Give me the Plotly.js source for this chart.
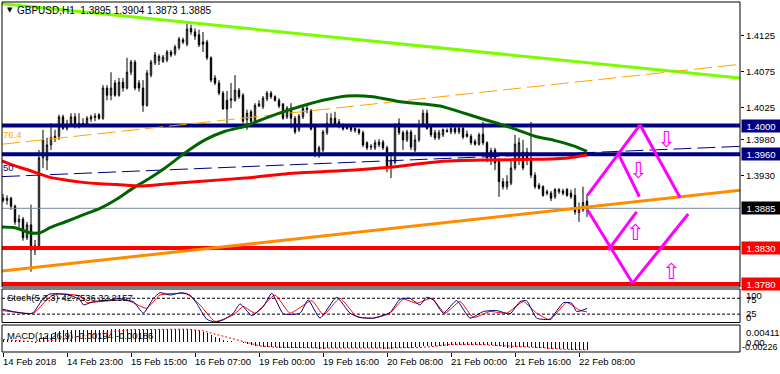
<!DOCTYPE html>
<html><head><meta charset="utf-8">
<script src="https://cdn.plot.ly/plotly-3.0.1.min.js"></script>
<style>html,body{margin:0;padding:0;background:#fff;}#chart{width:780px;height:374px;}</style>
</head><body><div id="chart"></div>
<script>
const symbol = 'GBPUSD,H1';
const openP = [1.3899,1.3896,1.3899,1.3888,1.3866,1.3870,1.3844,1.3862,1.3827,1.3833,
 1.3955,1.3952,1.3973,1.3983,1.3985,1.4012,1.3996,1.4002,1.4012,1.3999,
 1.4003,1.4001,1.4009,1.4011,1.4015,1.4010,1.4052,1.4042,1.4059,1.4042,
 1.4060,1.4052,1.4074,1.4088,1.4059,1.4052,1.4028,1.4070,1.4087,1.4090,
 1.4089,1.4091,1.4102,1.4100,1.4108,1.4119,1.4113,1.4135,1.4130,1.4126,
 1.4116,1.4116,1.4094,1.4066,1.4059,1.4045,1.4035,1.4035,1.4035,1.4049,
 1.4042,1.4008,1.4019,1.4006,1.4027,1.4026,1.4037,1.4045,1.4040,1.4035,
 1.4030,1.4012,1.4024,1.4010,1.3994,1.4012,1.4022,1.4020,1.3998,1.3960,
 1.3966,1.3990,1.4003,1.4010,1.4005,1.3999,1.3998,1.3998,1.3993,1.3994,
 1.3990,1.3976,1.3970,1.3969,1.3973,1.3977,1.3969,1.3944,1.3949,1.4003,
 1.3990,1.3980,1.3991,1.3966,1.3980,1.4001,1.4017,1.3998,1.3990,1.3983,
 1.3987,1.3993,1.3991,1.3996,1.3991,1.3996,1.3988,1.3985,1.3978,1.3974,
 1.3988,1.3976,1.3955,1.3966,1.3952,1.3922,1.3915,1.3920,1.3941,1.3952,
 1.3963,1.3963,1.3955,1.3931,1.3917,1.3915,1.3908,1.3906,1.3901,1.3908,
 1.3909,1.3911,1.3906,1.3903,1.3879,1.3883,1.3895];
const highP = [1.3905,1.3903,1.3901,1.3890,1.3876,1.3873,1.3866,1.3890,1.3841,1.3966,
 1.3994,1.3983,1.4003,1.3994,1.4015,1.4015,1.4008,1.4017,1.4017,1.4017,
 1.4010,1.4013,1.4015,1.4017,1.4017,1.4056,1.4056,1.4074,1.4063,1.4066,
 1.4066,1.4094,1.4091,1.4091,1.4063,1.4063,1.4077,1.4091,1.4102,1.4099,
 1.4098,1.4105,1.4105,1.4112,1.4123,1.4122,1.4142,1.4140,1.4135,1.4133,
 1.4130,1.4119,1.4096,1.4070,1.4063,1.4048,1.4048,1.4059,1.4070,1.4052,
 1.4045,1.4022,1.4022,1.4031,1.4035,1.4041,1.4048,1.4048,1.4042,1.4038,
 1.4031,1.4027,1.4031,1.4013,1.4016,1.4028,1.4031,1.4023,1.4001,1.3972,
 1.3994,1.4017,1.4017,1.4019,1.4009,1.4003,1.4002,1.4001,1.4002,1.3996,
 1.3993,1.3978,1.3974,1.3980,1.3981,1.3980,1.3972,1.3963,1.4003,1.4010,
 1.3993,1.3994,1.3994,1.3987,1.4008,1.4022,1.4022,1.4001,1.3994,1.3994,
 1.3996,1.3996,1.4003,1.3999,1.4002,1.3999,1.3993,1.3988,1.3981,1.3990,
 1.4005,1.3978,1.3969,1.3969,1.3955,1.3927,1.3931,1.3952,1.3987,1.3983,
 1.3980,1.3969,1.4005,1.3935,1.3920,1.3917,1.3911,1.3909,1.3913,1.3913,
 1.3912,1.3913,1.3911,1.3913,1.3893,1.3915,1.3904];
const lowP = [1.3893,1.3890,1.3883,1.3862,1.3858,1.3840,1.3841,1.3797,1.3820,1.3829,
 1.3941,1.3938,1.3966,1.3977,1.3980,1.3994,1.3993,1.3998,1.3996,1.3996,
 1.3998,1.3999,1.4005,1.4006,1.4008,1.4008,1.4035,1.4035,1.4040,1.4040,
 1.4047,1.4050,1.4070,1.4049,1.4047,1.4019,1.4026,1.4067,1.4084,1.4084,
 1.4087,1.4088,1.4095,1.4097,1.4105,1.4113,1.4110,1.4126,1.4119,1.4109,
 1.4102,1.4091,1.4060,1.4056,1.4042,1.4022,1.4003,1.4024,1.4033,1.4037,
 1.4003,1.3994,1.4003,1.4003,1.4026,1.4023,1.4034,1.4037,1.4033,1.4024,
 1.4008,1.4009,1.3996,1.3988,1.3991,1.4009,1.4017,1.3993,1.3956,1.3955,
 1.3963,1.3987,1.4001,1.3998,1.3996,1.3993,1.3994,1.3991,1.3990,1.3987,
 1.3970,1.3966,1.3966,1.3966,1.3970,1.3966,1.3935,1.3927,1.3946,1.3987,
 1.3966,1.3977,1.3966,1.3963,1.3977,1.3998,1.3994,1.3984,1.3980,1.3980,
 1.3984,1.3990,1.3988,1.3988,1.3988,1.3981,1.3983,1.3973,1.3972,1.3972,
 1.3973,1.3949,1.3945,1.3938,1.3901,1.3911,1.3911,1.3917,1.3938,1.3945,
 1.3938,1.3945,1.3927,1.3912,1.3911,1.3901,1.3903,1.3895,1.3898,1.3905,
 1.3903,1.3901,1.3898,1.3876,1.3866,1.3880,1.3873];
const closeP = [1.3896,1.3899,1.3888,1.3866,1.3870,1.3844,1.3862,1.3827,1.3833,1.3955,
 1.3980,1.3973,1.3983,1.3985,1.4012,1.3996,1.4002,1.4012,1.3999,1.4003,
 1.4001,1.4010,1.4012,1.4013,1.4010,1.4052,1.4042,1.4052,1.4042,1.4060,
 1.4052,1.4074,1.4088,1.4052,1.4052,1.4028,1.4073,1.4088,1.4098,1.4096,
 1.4095,1.4102,1.4098,1.4109,1.4120,1.4116,1.4134,1.4130,1.4124,1.4112,
 1.4113,1.4094,1.4063,1.4059,1.4045,1.4023,1.4023,1.4037,1.4049,1.4040,
 1.4006,1.4017,1.4006,1.4028,1.4030,1.4038,1.4045,1.4040,1.4035,1.4027,
 1.4010,1.4024,1.4010,1.3991,1.4013,1.4024,1.4024,1.3995,1.3959,1.3969,
 1.3991,1.4003,1.4010,1.4001,1.3999,1.3995,1.3996,1.3994,1.3996,1.3990,
 1.3973,1.3969,1.3971,1.3976,1.3977,1.3969,1.3942,1.3952,1.4001,1.3990,
 1.3980,1.3991,1.3970,1.3980,1.4001,1.4017,1.3996,1.3987,1.3983,1.3990,
 1.3994,1.3992,1.3996,1.3991,1.3996,1.3984,1.3985,1.3976,1.3974,1.3987,
 1.3976,1.3955,1.3965,1.3948,1.3922,1.3915,1.3922,1.3941,1.3974,1.3976,
 1.3941,1.3952,1.3931,1.3915,1.3913,1.3903,1.3906,1.3899,1.3911,1.3911,
 1.3906,1.3903,1.3901,1.3880,1.3885,1.3893,1.3885];

const timeLabels = ['14 Feb 2018','14 Feb 23:00','15 Feb 15:00','16 Feb 07:00','19 Feb 00:00','19 Feb 16:00','20 Feb 08:00','21 Feb 00:00','21 Feb 16:00','22 Feb 08:00'];
const timeLabelIdx = [0,16,32,48,64,80,96,112,128,144];

const maGreenIdx = [-0.25,3,6.75,9.25,11.75,16,20,24.25,28.5,32.5,36.75,40.5,45.5,50.5,55.5,60.5,65.5,71.75,80,86,92.5,99.25,105,109.25,114.25,120.5,124.25,128,133,138,143,146];
const maGreenVal = [1.3859,1.3858,1.3851,1.3851,1.3858,1.3867,1.3876,1.3885,1.3898,1.3913,1.3927,1.3941,1.3962,1.3980,1.3992,1.3999,1.4010,1.4022,1.4035,1.4041,1.4040,1.4033,1.4030,1.4027,1.4019,1.4008,1.4002,1.3995,1.3985,1.3979,1.3971,1.3964];
const maRedIdx = [-0.25,2.5,7.5,11.75,16,20,24.25,28.5,34.25,39.25,48,60.5,73,84.25,96.75,109.25,120.5,133,141.25,146];
const maRedVal = [1.3951,1.3945,1.3936,1.3928,1.3924,1.3921,1.3919,1.3918,1.3916,1.3918,1.3922,1.3927,1.3934,1.3937,1.3942,1.3950,1.3952,1.3953,1.3955,1.3959];

const limeLineIdx = [-0.25,184.25], limeLineVal = [1.4169,1.4066];
const orangeLineIdx = [-0.25,184.25], orangeLineVal = [1.3798,1.3910];
const fib764Idx = [-0.25,184.25], fib764Val = [1.3974,1.4085];
const fib50Idx = [-0.25,184.25], fib50Val = [1.3929,1.3971];

const levels = [1.4000,1.3960,1.3830,1.3780];
const levelColors = ['#000080','#000080','#FF0000','#FF0000'];
const priceTicks = [1.4125,1.4075,1.4025,1.3980,1.3930];

// forecast zigzag segments [idx0, idx1], [price0, price1]
const projIdx = [[146.1,159.25],[159.25,169.25],[153.8,159.1],[146.1,157.4],[157.4,171.3],[151.3,158.4]];
const projVal = [[1.3903,1.4001],[1.4001,1.3900],[1.3961,1.3901],[1.3883,1.3781],[1.3781,1.3877],[1.3827,1.3880]];
const arrowIdx = [165.75,158.75,158,167];
const arrowVal = [1.3980,1.3938,1.3851,1.3797];
const arrowDir = ['down','down','up','up'];

const stochMainIdx = [-0.1,2.6,6.75,7.6,10.1,11.75,14.25,16.75,19.25,20.1,22.6,26.75,29.25,30.9,32.6,35.1,37.6,39.25,41.75,44.7,46.75,48.4,50.9,53,55.1,57.6,59.25,62.2,65.1,67.2,70.1,74.25,76.3,79.25,83.4,86.75,89.25,92.6,96.75,99.25,101.75,104.25,105.9,107.6,110.1,113.4,116.75,120.1,123.4,126.75,129.25,130.9,133.4,136.75,140.1,142.2,143.4,146];
const stochMainVal = [40.6,33,26,30,75,88.4,88.4,85.2,69.7,54.1,64.5,69.7,74.8,67.6,64.5,28.1,74.8,92.6,85.2,92.6,85.2,59.3,9.4,0,7.3,28.1,57.2,20.8,48.9,90.5,26,28.1,69.7,12.5,78,28.1,14.5,12.5,30.1,71.8,74.8,54.1,78,69.7,28.1,67.6,12.5,33.3,36.4,26,64.5,67.6,12.5,9.4,61.4,59.3,33.3,42.7536];
const stochSigIdx = [-0.1,7.6,10.9,13,19.25,20.9,24.25,30.9,35.9,39.25,45.9,49.25,53,57.6,60.1,63,68,71.75,77.2,80.1,84.25,88.4,92.6,96.75,100.1,103.4,107.2,110.5,114.25,117.6,121.75,125.9,130.1,133.4,136.75,140.9,144.25,146];
const stochSigVal = [36.4,28.1,69.7,88.4,82.2,61.4,64.5,69.7,43.7,85.2,88.4,54.1,2.1,22.9,48.9,28.1,85.2,28.1,67.6,22.9,74.8,17.7,12.5,28.1,71.8,59.3,74.8,28.1,64.5,14.5,33.3,28.1,64.5,28.1,7.3,61.4,36.4,32.2157];
const stochLevels = [75,25];

const macdHist = [0.0007,0.0007,0.0006,0.0006,0.0005,0.0004,0.0003,0.0001,-0.0001,
 0.0008,0.0013,0.0017,0.0021,0.0024,0.0027,0.0029,0.0030,0.0031,0.0031,0.0031,0.0031,0.0031,0.0031,0.0031,0.0030,
 0.0031,0.0031,0.0032,0.0032,0.0032,0.0032,0.0032,0.0033,0.0032,0.0031,0.0030,0.0031,0.0031,0.0032,0.0032,0.0032,0.0032,0.0032,0.0032,0.0033,0.0033,0.0033,0.0032,
 0.0031,0.0028,0.0026,0.0022,0.0017,0.0013,0.0010,0.0006,0.0004,0.0002,0.0001,0.0000,-0.0002,
 -0.0004,-0.0006,-0.0008,-0.0010,-0.0011,-0.0011,-0.0012,-0.0012,-0.0013,-0.0013,-0.0013,-0.0014,-0.0014,-0.0014,-0.0014,-0.0014,-0.0014,-0.0015,-0.0016,-0.0016,-0.0015,-0.0014,-0.0014,-0.0014,-0.0014,-0.0014,-0.0014,-0.0014,-0.0015,-0.0015,-0.0015,-0.0015,-0.0015,-0.0015,-0.0016,-0.0016,
 -0.0016,-0.0014,-0.0013,-0.0013,-0.0013,-0.0013,-0.0012,-0.0011,-0.0010,-0.0010,-0.0010,-0.0010,-0.0009,-0.0009,-0.0008,
 -0.0007,-0.0007,-0.0006,-0.0006,-0.0006,-0.0006,-0.0006,-0.0006,-0.0006,-0.0007,-0.0007,-0.0008,-0.0010,
 -0.0012,-0.0013,-0.0013,-0.0012,-0.0011,-0.0011,-0.0011,-0.0012,-0.0013,-0.0014,-0.0015,-0.0016,-0.0016,-0.0017,-0.0017,-0.0017,-0.0017,-0.0018,-0.0019,-0.0019,-0.0019,-0.00194];
const macdSigIdx = [0,8,12,16,20,24,28,32,40,46,50,53.4,56,59.25,62,64.25,68,72,80,96,100,104,108,112,118,124,128,132,136,140,146];
const macdSigVal = [0.0007,0.0001,0.0004,0.0009,0.0016,0.0022,0.0027,0.0031,0.0032,0.0032,0.0028,0.0019,0.0011,0.0003,-0.0004,-0.0009,-0.0012,-0.0013,-0.0014,-0.0014,-0.0014,-0.0013,-0.0010,-0.0005,-0.0005,-0.0008,-0.0010,-0.0011,-0.0014,-0.0017,-0.00186];
const macdAxisLabels = ['0.00411','0.00','-0.00226'];
const stochAxisLabels = ['100','75','25','0'];

// ---------- layout helpers (pixel -> paper) ----------
const PT = 2, PB = 352, PL = 2, PR = 740;
const py = y => (PB - y) / (PB - PT);
const px = x => (x - PL) / (PR - PL);
const FONT = 'Liberation Sans, Arial, sans-serif';
const XR = [-0.25, 184.25];
const idx = openP.map((_, k) => k);
const last = openP.length - 1;

const traces = [];
traces.push({type:'candlestick', x: idx, open: openP, high: highP, low: lowP, close: closeP,
  xaxis:'x', yaxis:'y', whiskerwidth:0,
  increasing:{line:{color:'#000', width:1}, fillcolor:'#fff'},
  decreasing:{line:{color:'#000', width:1}, fillcolor:'#000'},
  hoverinfo:'skip'});
traces.push({type:'scatter', mode:'lines', x: XR, y:[closeP[last], closeP[last]], line:{color:'#778899', width:1}, hoverinfo:'skip'});
levels.forEach((lv,k)=> traces.push({type:'scatter', mode:'lines', x: XR, y:[lv,lv], line:{color: levelColors[k], width:4}, hoverinfo:'skip'}));
traces.push({type:'scatter', mode:'lines', x: limeLineIdx, y: limeLineVal, line:{color:'#7CFC00', width:3}, hoverinfo:'skip'});
traces.push({type:'scatter', mode:'lines', x: fib764Idx, y: fib764Val, line:{color:'#FFA500', width:1, dash:'18px,6px'}, hoverinfo:'skip'});
traces.push({type:'scatter', mode:'lines', x: fib50Idx, y: fib50Val, line:{color:'#000080', width:1, dash:'18px,6px'}, hoverinfo:'skip'});
traces.push({type:'scatter', mode:'lines', x: orangeLineIdx, y: orangeLineVal, line:{color:'#FF8C00', width:3}, hoverinfo:'skip'});
traces.push({type:'scatter', mode:'lines', x: maGreenIdx, y: maGreenVal, line:{color:'#006400', width:3, shape:'spline', smoothing:0.6}, hoverinfo:'skip'});
traces.push({type:'scatter', mode:'lines', x: maRedIdx, y: maRedVal, line:{color:'#FF0000', width:3, shape:'spline', smoothing:0.6}, hoverinfo:'skip'});
projIdx.forEach((xs,k)=> traces.push({type:'scatter', mode:'lines', x: xs, y: projVal[k], line:{color:'#FF00FF', width:3}, hoverinfo:'skip'}));

stochLevels.forEach(lv => traces.push({type:'scatter', mode:'lines', x: XR, y:[lv,lv], xaxis:'x2', yaxis:'y2', line:{color:'#000', width:1, dash:'3px,2px'}, hoverinfo:'skip'}));
traces.push({type:'scatter', mode:'lines', x: stochSigIdx, y: stochSigVal, xaxis:'x2', yaxis:'y2', line:{color:'#FF0000', width:1, shape:'spline', smoothing:0.5}, hoverinfo:'skip'});
traces.push({type:'scatter', mode:'lines', x: stochMainIdx, y: stochMainVal, xaxis:'x2', yaxis:'y2', line:{color:'#000080', width:1, shape:'spline', smoothing:0.5}, hoverinfo:'skip'});

traces.push({type:'bar', x: idx, y: macdHist, xaxis:'x3', yaxis:'y3', width:0.25, marker:{color:'#000080', line:{width:0}}, hoverinfo:'skip'});
traces.push({type:'scatter', mode:'lines', x: macdSigIdx, y: macdSigVal, xaxis:'x3', yaxis:'y3', line:{color:'#FF0000', width:1, dash:'2px,2px'}, hoverinfo:'skip'});

const ann = [];
const txt = (text, x, y, o={}) => Object.assign({text, x, y, xref:'paper', yref:'paper', showarrow:false, xanchor:'left', yanchor:'middle', font:{family:FONT, size:9.5, color:'#000'}}, o);

ann.push(txt('▼', px(10), py(10), {xanchor:'center', font:{family:'DejaVu Sans', size:7, color:'#000'}}));
ann.push(txt(`${symbol}  ${openP[last].toFixed(4)} ${highP[last].toFixed(4)} ${lowP[last].toFixed(4)} ${closeP[last].toFixed(4)}`, px(15), py(11), {font:{family:FONT, size:10, color:'#000'}}));
ann.push(txt('76.4', px(1), py(134), {font:{family:FONT, size:9.5, color:'#FFA500'}}));
ann.push(txt('50', px(1), py(167), {font:{family:FONT, size:9.5, color:'#000080'}}));
const boxes = levels.map((lv,k)=>({v:lv, c:levelColors[k]})).concat([{v:closeP[last], c:'#000'}]);
boxes.forEach(b => ann.push({text: b.v.toFixed(4), x:1, y:b.v, xref:'paper', yref:'y', xanchor:'left', yanchor:'middle', xshift:1, showarrow:false,
  bgcolor:b.c, width:36, height:10, borderpad:1, align:'center', font:{family:FONT, size:9.5, color:'#fff'}}));
const lastStochM = stochMainVal[stochMainVal.length-1], lastStochS = stochSigVal[stochSigVal.length-1];
ann.push(txt(`Stoch(5,3,3) ${lastStochM.toFixed(4)} ${lastStochS.toFixed(4)}`, px(5), py(297)));
ann.push(txt(`MACD(12,26,9) ${macdHist[last].toFixed(5)} ${macdSigVal[macdSigVal.length-1].toFixed(5)}`, px(5), py(335)));
const stochLabelY = [295, 299.5, 313.5, 317];
stochAxisLabels.forEach((t,k)=> ann.push(txt(t, 1, py(stochLabelY[k]), {xshift:4})));
const macdLabelY = [332, 342.5, 346.7];
const macdLabelX = [4, 4, 0];
macdAxisLabels.forEach((t,k)=> ann.push(txt(t, 1, py(macdLabelY[k]), {xshift:macdLabelX[k], font:{family:FONT, size:(k===2?9:9.5), color:'#000'}})));
timeLabels.forEach((t,k)=> ann.push({text:t, x: timeLabelIdx[k], y: py(361.5), xref:'x3', yref:'paper', showarrow:false, xanchor:'left', yanchor:'middle', xshift:-2, font:{family:FONT, size:9.5, color:'#000'}}));
arrowIdx.forEach((xv,k)=> ann.push({text: arrowDir[k]==='down' ? '⇩' : '⇧', x: xv, y: arrowVal[k], xref:'x', yref:'y', showarrow:false, xanchor:'center', yanchor:'middle', font:{family:'DejaVu Sans', size:22, color:'#FF00FF'}}));

const shapes = [
  {type:'rect', xref:'paper', yref:'paper', x0:0, x1:1, y0:py(287), y1:1, line:{color:'#000', width:1}, fillcolor:'rgba(0,0,0,0)'},
  {type:'rect', xref:'paper', yref:'paper', x0:0, x1:1, y0:py(322.5), y1:py(289), line:{color:'#000', width:1}, fillcolor:'rgba(0,0,0,0)'},
  {type:'rect', xref:'paper', yref:'paper', x0:0, x1:1, y0:0, y1:py(325), line:{color:'#000', width:1}, fillcolor:'rgba(0,0,0,0)'}
];

const ax = {showgrid:false, zeroline:false, showline:false, fixedrange:true};
const layout = {
  width:780, height:374, margin:{l:PL, r:780-PR, t:PT, b:374-PB, pad:0},
  paper_bgcolor:'#fff', plot_bgcolor:'#fff', showlegend:false, boxgap:0.5, boxmode:'overlay', bargap:0,
  font:{family:FONT, size:9.5, color:'#000'},
  xaxis: Object.assign({}, ax, {domain:[0,1], range:XR, anchor:'y', showticklabels:false, ticks:'', rangeslider:{visible:false}}),
  xaxis2: Object.assign({}, ax, {domain:[0,1], range:XR, anchor:'y2', showticklabels:false, ticks:''}),
  xaxis3: Object.assign({}, ax, {domain:[0,1], range:XR, anchor:'y3', showticklabels:false, ticks:'outside', ticklen:4, tickcolor:'#000', tickwidth:1, tickvals: timeLabelIdx}),
  yaxis: Object.assign({}, ax, {domain:[py(287),1], range:[1.377569,1.417153], anchor:'x', side:'right', tickvals: priceTicks, ticktext: priceTicks.map(v=>v.toFixed(4)), ticks:'outside', ticklen:3, tickcolor:'#000', tickfont:{family:FONT, size:9.5, color:'#000'}}),
  yaxis2: Object.assign({}, ax, {domain:[py(322.5),py(289)], range:[-1.25,104.1], anchor:'x2', showticklabels:false, ticks:''}),
  yaxis3: Object.assign({}, ax, {domain:[0,py(325)], range:[-0.00238,0.00423], anchor:'x3', showticklabels:false, ticks:''}),
  annotations: ann, shapes: shapes
};
Plotly.newPlot('chart', traces, layout, {staticPlot:true, displayModeBar:false});
</script></body></html>
